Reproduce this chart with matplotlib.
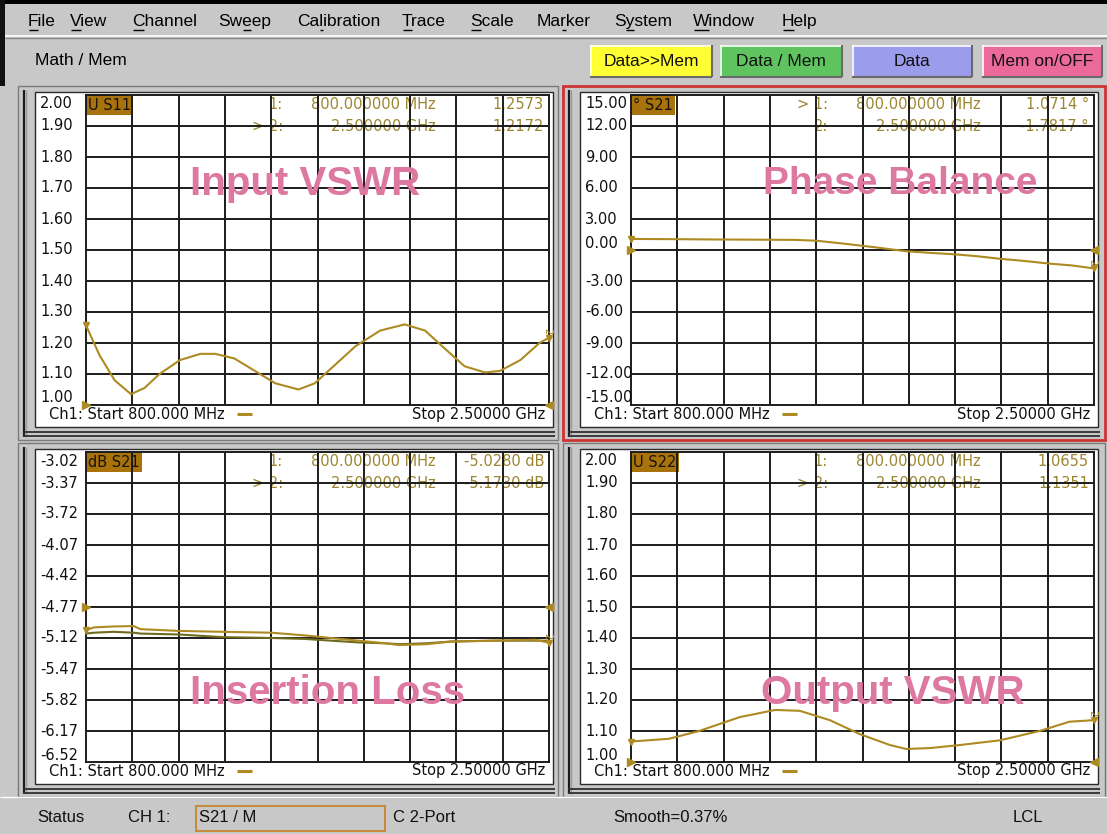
import matplotlib
matplotlib.use('Agg')
import matplotlib.pyplot as plt
from matplotlib.patches import Rectangle
from matplotlib.transforms import blended_transform_factory, offset_copy
import numpy as np

# ------------------------------------------------------------------ data
menu_items = ['File', 'View', 'Channel', 'Sweep', 'Calibration', 'Trace',
              'Scale', 'Marker', 'System', 'Window', 'Help']
menu_underline = [0, 0, 0, 2, 2, 0, 0, 2, 1, 0, 0]
toolbar_label = 'Math / Mem'
button_labels = ['Data>>Mem', 'Data / Mem', 'Data', 'Mem on/OFF']
button_colors = ['#ffff33', '#5fc45f', '#9c9cec', '#ec6a9a']

freq_start = 0.8
freq_stop = 2.5
start_label = 'Ch1: Start 800.000 MHz'
stop_label = 'Stop 2.50000 GHz'

vswr_ticks = [2.00, 1.90, 1.80, 1.70, 1.60, 1.50, 1.40, 1.30, 1.20, 1.10, 1.00]
phase_ticks = [15.0, 12.0, 9.0, 6.0, 3.0, 0.0, -3.0, -6.0, -9.0, -12.0, -15.0]
il_ticks = [-3.02, -3.37, -3.72, -4.07, -4.42, -4.77, -5.12, -5.47, -5.82, -6.17, -6.52]

s11_freq = [0.80, 0.85, 0.905, 0.965, 1.015, 1.07, 1.145, 1.22, 1.275, 1.345,
            1.42, 1.495, 1.58, 1.64, 1.715, 1.79, 1.88, 1.97, 2.045, 2.12,
            2.19, 2.265, 2.32, 2.395, 2.465, 2.50]
s11_vswr = [1.257, 1.16, 1.08, 1.035, 1.055, 1.10, 1.145, 1.165, 1.165, 1.15,
            1.11, 1.07, 1.05, 1.07, 1.13, 1.19, 1.24, 1.26, 1.24, 1.18,
            1.125, 1.105, 1.11, 1.145, 1.20, 1.217]

phase_freq = [0.80, 0.95, 1.10, 1.25, 1.40, 1.48, 1.58, 1.70, 1.81, 1.90,
              1.99, 2.07, 2.155, 2.24, 2.33, 2.42, 2.50]
phase_deg = [1.07, 1.05, 1.02, 1.00, 0.98, 0.90, 0.62, 0.25, -0.12, -0.28,
             -0.42, -0.60, -0.85, -1.05, -1.30, -1.50, -1.78]

il_freq = [0.80, 0.83, 0.90, 0.975, 1.00, 1.14, 1.30, 1.48, 1.60, 1.70,
           1.80, 1.90, 1.95, 2.05, 2.14, 2.30, 2.45, 2.50]
il_data = [-5.03, -5.00, -4.99, -4.985, -5.02, -5.04, -5.05, -5.06, -5.09, -5.12,
           -5.15, -5.18, -5.20, -5.19, -5.16, -5.15, -5.14, -5.173]
il_mem = [-5.07, -5.06, -5.05, -5.06, -5.07, -5.08, -5.11, -5.12, -5.13, -5.15,
          -5.17, -5.18, -5.19, -5.18, -5.16, -5.15, -5.15, -5.15]

s22_freq = [0.80, 0.94, 1.05, 1.20, 1.33, 1.42, 1.53, 1.64, 1.75, 1.81,
            1.90, 2.01, 2.155, 2.30, 2.41, 2.50]
s22_vswr = [1.066, 1.075, 1.10, 1.145, 1.168, 1.165, 1.135, 1.09, 1.055, 1.042,
            1.045, 1.055, 1.07, 1.10, 1.13, 1.135]

s11_markers = [('1:', '800.000000 MHz', '1.2573'), ('> 2:', '2.500000 GHz', '1.2172')]
phase_markers = [('> 1:', '800.000000 MHz', '1.0714 °'), ('2:', '2.500000 GHz', '-1.7817 °')]
il_markers = [('1:', '800.000000 MHz', '-5.0280 dB'), ('> 2:', '2.500000 GHz', '-5.1730 dB')]
s22_markers = [('1:', '800.000000 MHz', '1.0655'), ('> 2:', '2.500000 GHz', '1.1351')]

status_items = ['Status', 'CH 1:', 'S21 / M', 'C 2-Port', 'Smooth=0.37%', 'LCL']

# ------------------------------------------------------------------ style
W, H = 1107, 834
GRAY = '#c8c8c8'
GOLD = '#ad8a22'
MEM = '#6e6a1e'
MTXT = '#9c8530'
BOXC = '#a8720c'
PINK = '#dd78a0'
GRID = '#1c1c1c'
FT = 'DejaVu Sans'
FM = 'Liberation Sans'

fig = plt.figure(figsize=(W / 100, H / 100), dpi=100)
fig.patch.set_facecolor(GRAY)
bg = fig.add_axes([0, 0, 1, 1], zorder=0)
bg.set_xlim(0, W)
bg.set_ylim(H, 0)
bg.axis('off')
R = fig.canvas.get_renderer()


def rect(x0, y0, x1, y1, fc='none', ec='none', lw=1.0, z=1):
    bg.add_patch(Rectangle((x0, y0), x1 - x0, y1 - y0, facecolor=fc,
                           edgecolor=ec, lw=lw, zorder=z))


def hline(x0, x1, y, c, lw=1.0, z=2):
    bg.plot([x0, x1], [y, y], color=c, lw=lw, zorder=z, solid_capstyle='butt')


def vline(x, y0, y1, c, lw=1.0, z=2):
    bg.plot([x, x], [y0, y1], color=c, lw=lw, zorder=z, solid_capstyle='butt')


def text_width(s, **kw):
    t = bg.text(0, 0, s, **kw)
    w = t.get_window_extent(renderer=R).width
    t.remove()
    return w


# ------------------------------------------------------------------ window chrome
rect(0, 0, W, 4, fc='black', z=1)
rect(0, 0, 5, 86, fc='#101010', z=1)
hline(5, W, 36, '#ffffff', 1.2)
hline(5, W, 37.5, '#8a8a8a', 1.0)

menu_x = [28, 70, 132, 218, 297, 402, 470, 537, 614, 693, 782]
mkw = dict(family=FM, fontsize=12.5, color='black', va='center', ha='left')
for lab, ui, x in zip(menu_items, menu_underline, menu_x):
    bg.text(x, 21, lab, zorder=3, **mkw)
    a = text_width(lab[:ui], **mkw) if ui > 0 else 0.0
    b = text_width(lab[:ui + 1], **mkw)
    hline(x + a + 0.5, x + b - 0.5, 29.5, 'black', 1.0, z=3)

bg.text(35, 60, toolbar_label, zorder=3, **mkw)

button_x = [(590, 712), (720, 842), (852, 972), (982, 1102)]
for lab, col, (bx0, bx1) in zip(button_labels, button_colors, button_x):
    rect(bx0, 45, bx1, 77, fc=col, z=2)
    hline(bx0, bx1, 45.5, '#ffffff', 1.2, z=3)
    vline(bx0 + 0.5, 45, 77, '#ffffff', 1.2, z=3)
    hline(bx0, bx1, 76.5, '#6a6a6a', 1.5, z=3)
    vline(bx1 - 0.5, 45, 77, '#6a6a6a', 1.5, z=3)
    bg.text((bx0 + bx1) / 2, 61, lab, family=FM, fontsize=12.5, color='#101010',
            ha='center', va='center', zorder=4)

# ------------------------------------------------------------------ panels
GX0, GY0, GX1, GY1 = 86, 95, 549, 405
DX, DY = 545, 357

panels = [
    dict(col=0, row=0, ticks=vswr_ticks, fmt='%.2f', name='U S11', title='Input VSWR',
         title_dx=219, tsize=29, ref=1.00, markers=s11_markers, active=False,
         traces=[(s11_freq, s11_vswr, GOLD)]),
    dict(col=1, row=0, ticks=phase_ticks, fmt='%.2f', name='° S21', title='Phase Balance',
         title_dx=269, tsize=28, ref=0.0, markers=phase_markers, active=True,
         traces=[(phase_freq, phase_deg, GOLD)]),
    dict(col=0, row=1, ticks=il_ticks, fmt='%.2f', name='dB S21', title='Insertion Loss',
         title_dx=242, tsize=29, ref=-4.77, markers=il_markers, active=False,
         traces=[(il_freq, il_mem, MEM), (il_freq, il_data, GOLD)]),
    dict(col=1, row=1, ticks=vswr_ticks, fmt='%.2f', name='U S22', title='Output VSWR',
         title_dx=262, tsize=29, ref=1.00, markers=s22_markers, active=False,
         traces=[(s22_freq, s22_vswr, GOLD)]),
]

tkw = dict(family=FT, fontsize=10.5)

for p in panels:
    ox, oy = p['col'] * DX, p['row'] * DY
    gx0, gy0, gx1, gy1 = GX0 + ox, GY0 + oy, GX1 + ox, GY1 + oy

    # frame
    ec = '#cc3333' if p['active'] else '#7a7a7a'
    rect(18 + ox, 86 + oy, 558 + ox if p['col'] == 0 else 1105, 440 + oy,
         fc=GRAY, ec=ec, lw=2.0 if p['active'] else 1.0, z=1)
    vline(23.5 + ox, 90 + oy, 437 + oy, '#1a1a1a', 1.6, z=2)
    vline(26 + ox, 90 + oy, 437 + oy, '#9a9a9a', 1.0, z=2)
    hline(23 + ox, 555 + ox, 432 + oy, '#303030', 1.3, z=2)
    hline(23 + ox, 555 + ox, 436 + oy, '#303030', 1.3, z=2)
    rect(34.5 + ox, 92 + oy, 553 + ox, 427 + oy, fc='white', ec='#2a2a2a', lw=1.0, z=2)

    # plot axes on the grid region
    ax = fig.add_axes([gx0 / W, 1 - gy1 / H, (gx1 - gx0) / W, (gy1 - gy0) / H], zorder=2)
    ax.set_facecolor('none')
    ticks = p['ticks']
    ax.set_xlim(freq_start, freq_stop)
    ax.set_ylim(min(ticks), max(ticks))
    ax.set_xticks([])
    ax.set_yticks([])
    for s in ax.spines.values():
        s.set_color(GRID)
        s.set_linewidth(1.4)
    for xv in np.linspace(freq_start, freq_stop, 11)[1:-1]:
        ax.axvline(xv, color=GRID, lw=1.4, zorder=1)
    for yv in ticks[1:-1]:
        ax.axhline(yv, color=GRID, lw=1.4, zorder=1)

    # tick labels (left aligned, VNA style)
    blend = blended_transform_factory(bg.transData, ax.transData)
    n = len(ticks)
    for i, tv in enumerate(ticks):
        dy = 0.0
        if i == 0:
            dy = -9
        elif i == n - 1:
            dy = 7
        elif abs(tv - p['ref']) < 1e-9 and p['ref'] == 0.0:
            dy = 7
        tr = offset_copy(blend, fig=fig, x=0, y=dy, units='dots')
        ax.text(gx0 - 46, tv, p['fmt'] % tv, transform=tr, ha='left', va='center',
                color='#101010', clip_on=False, zorder=5, **tkw)

    # reference level triangles
    ax.plot([freq_start], [p['ref']], marker='>', ms=6, color=GOLD, clip_on=False,
            zorder=6, ls='none')
    ax.plot([freq_stop], [p['ref']], marker='<', ms=6, color=GOLD, clip_on=False,
            zorder=6, ls='none')

    # traces
    for fx, fy, c in p['traces']:
        ax.plot(fx, fy, color=c, lw=1.5, zorder=5, clip_on=False)
    fx, fy, c = p['traces'][-1]
    ax.plot([fx[0]], [fy[0]], marker='v', ms=4.5, color=GOLD, zorder=6, clip_on=False)
    ax.plot([fx[-1]], [fy[-1]], marker='v', ms=4.5, color=GOLD, zorder=6, clip_on=False)
    ax.annotate('2', (fx[-1], fy[-1]), xytext=(-5, 4), textcoords='offset points',
                fontsize=7, color=GOLD, family=FT, rotation=-90, zorder=6,
                annotation_clip=False)

    # trace name box
    bg.text(gx0 + 2, gy0 + 10, p['name'], ha='left', va='center', color='#1a1208',
            zorder=3, bbox=dict(boxstyle='square,pad=0.15', fc=BOXC, ec='none'), **tkw)

    # marker readouts (drawn under the grid)
    for k, (mk, fq, val) in enumerate(p['markers']):
        yy = gy0 + 9 + 22 * k
        bg.text(gx0 + 197, yy, mk, ha='right', va='center', color=MTXT, zorder=3, **tkw)
        bg.text(gx0 + 350, yy, fq, ha='right', va='center', color=MTXT, zorder=3, **tkw)
        bg.text(gx1 - 5, yy, val, ha='right', va='center', color=MTXT, zorder=3, **tkw)

    # start / stop line
    bg.text(gx0 - 37, gy1 + 9, start_label, ha='left', va='center', color='#101010',
            zorder=3, **tkw)
    hline(gx0 + 151, gx0 + 166, gy1 + 9, GOLD, 2.2, z=3)
    bg.text(gx1 - 4, gy1 + 9, stop_label, ha='right', va='center', color='#101010',
            zorder=3, **tkw)

    # big title overlay
    fig.text((gx0 + p['title_dx']) / W, 1 - (gy0 + 89 + (152 if p['row'] else 0)) / H,
             p['title'], family=FM, fontweight='bold', fontsize=p['tsize'], color=PINK,
             ha='center', va='center', zorder=10)

# ------------------------------------------------------------------ status bar
hline(0, W, 797, '#ffffff', 1.0, z=2)
skw = dict(family=FM, fontsize=12, color='#101010', va='center', ha='left', zorder=3)
status_x = [37, 128, 199, 393, 613, 1013]
rect(196, 806, 385, 831, fc=GRAY, ec='#c88a3a', lw=1.4, z=2)
for lab, x in zip(status_items, status_x):
    bg.text(x, 818, lab, **skw)

fig.savefig('out.png', dpi=100, facecolor=fig.get_facecolor())
